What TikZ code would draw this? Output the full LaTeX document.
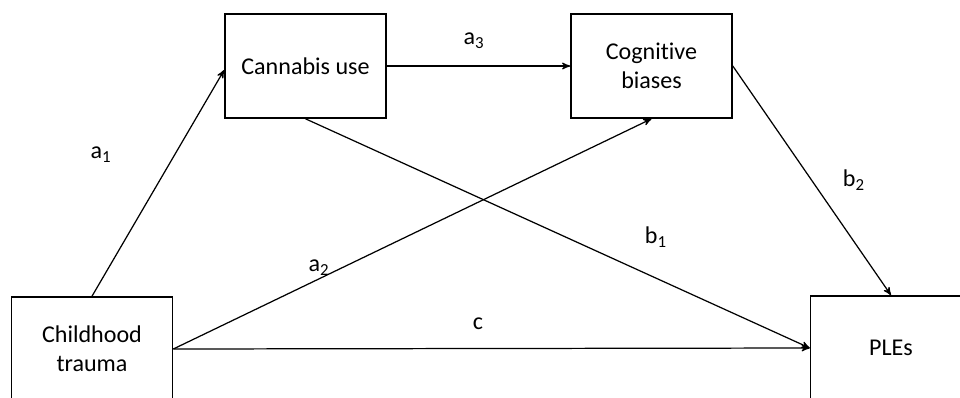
\documentclass[tikz,border=0pt]{standalone}
\usepackage{fontspec}
\setmainfont{Carlito}[Ligatures=NoCommon]
\usetikzlibrary{arrows,positioning}
\tikzset{
    %Define standard arrow tip
    >=stealth',
    punkt/.style={
      rectangle,
      draw=black, line width=0.9pt,
      minimum width=161*0.02cm,
      minimum height=104*0.02cm,
      align=center,
      font=\fontsize{13.7}{16.5}\selectfont},
    path/.style={
      ->, draw=black, line width=0.7pt},
    coef/.style={
      font=\fontsize{13.7}{16.5}\selectfont},
}
\begin{document}
\begin{tikzpicture}[x=0.02cm,y=-0.02cm]
    \useasboundingbox (0,0) rectangle (960,397);
    \clip (0,0) rectangle (960,397);
    % boxes
    \node (trauma) [punkt] at (92,349)
          {Childhood\\trauma};
    \node (cannabis) [punkt] at (305.5,66)
          {Cannabis use};
    \node (biases) [punkt] at (651.5,66)
          {Cognitive\\biases};
    \node (ples) [punkt] at (891,348)
          {PLEs};
    % paths
    \draw [path] (trauma.north) -- ([yshift=-4*0.02cm]cannabis.west);
    \draw [path] (cannabis.east) -- (biases.west);
    \draw [path] (cannabis.south) -- (ples.west);
    \draw [path] (trauma.east) -- (biases.south);
    \draw [path] (trauma.east) -- (ples.west);
    \draw [path] (biases.east) -- (ples.north);
    % coefficients
    \node (ca1) [coef] at (101,155) {a\textsubscript{1}};
    \node (ca2) [coef] at (319,268) {a\textsubscript{2}};
    \node (ca3) [coef] at (474,41) {a\textsubscript{3}};
    \node (cb1) [coef] at (656,237) {b\textsubscript{1}};
    \node (cb2) [coef] at (854,180) {b\textsubscript{2}};
    \node (cc) [coef] at (478,324) {c};
\end{tikzpicture}
\end{document}
